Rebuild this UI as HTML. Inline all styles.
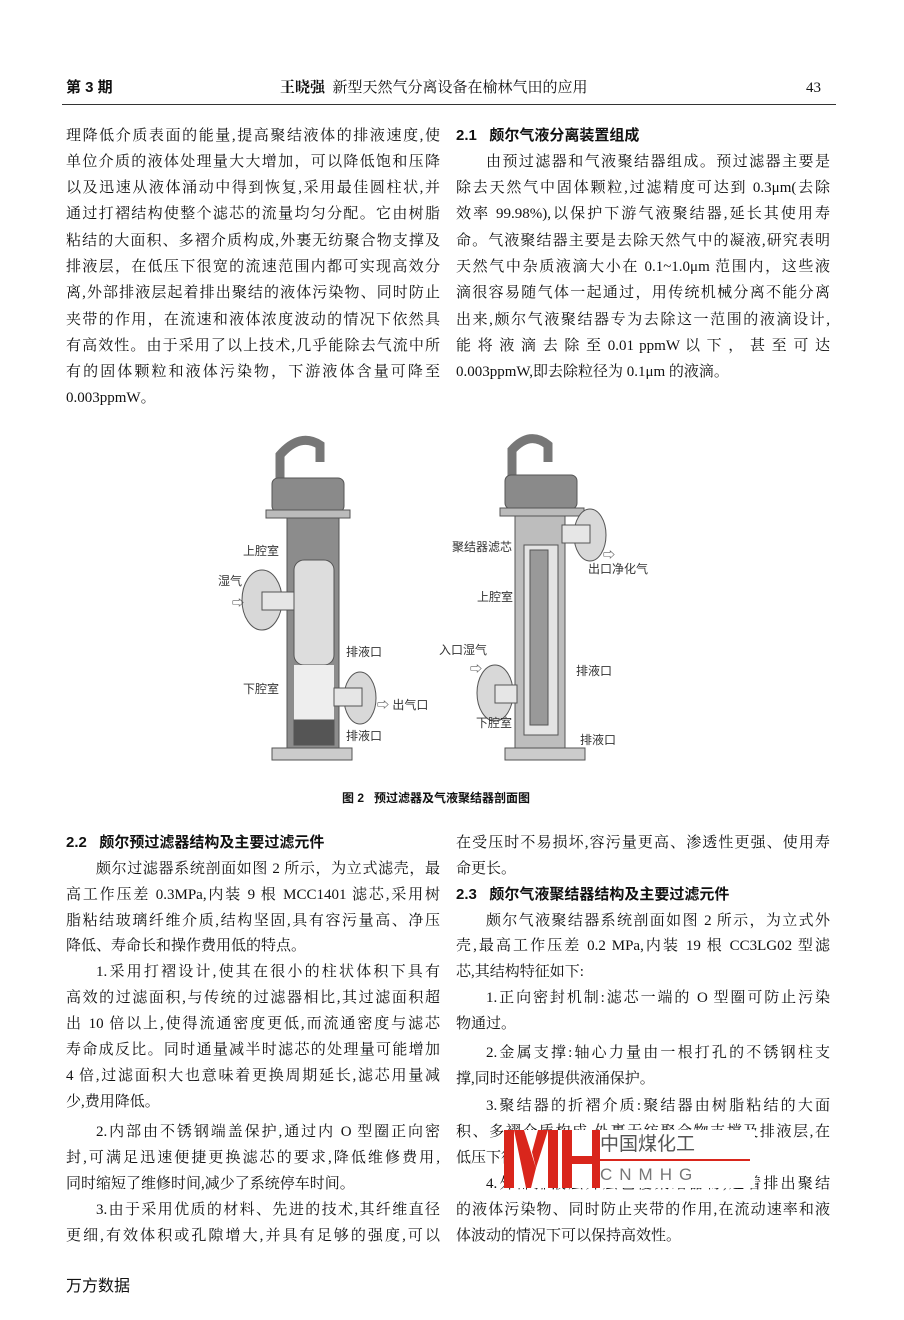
<!DOCTYPE html>
<html><head><meta charset="utf-8"><style>
body{margin:0;background:#fff}
#p{position:relative;width:904px;height:1320px;background:#fff;color:#111;font-family:"Liberation Serif","Noto Serif CJK SC","Noto Sans CJK SC",serif;font-size:15px;overflow:hidden}
.l{position:absolute;height:20px;line-height:20px;white-space:nowrap}
.L{left:66px;width:374px}
.R{left:456px;width:374px}
.j{text-align:justify;text-align-last:justify}
.h{font-family:"Liberation Sans","Noto Sans CJK SC",sans-serif;font-weight:bold}
.s{font-family:"Liberation Sans","Noto Sans CJK SC",sans-serif;font-size:12px;color:#333;position:absolute;white-space:nowrap}
</style></head><body><div id="p">
<div class="l h" style="left:66px;top:78px">第 3 期</div>
<div class="l" style="left:280px;top:78px"><b>王晓强</b>&nbsp;&nbsp;新型天然气分离设备在榆林气田的应用</div>
<div class="l" style="left:806px;top:78px">43</div>
<div style="position:absolute;left:62px;top:104px;width:774px;height:1px;background:#333"></div>

<div class="l L j" style="top:126px">理降低介质表面的能量,提高聚结液体的排液速度,使</div>
<div class="l L j" style="top:152px">单位介质的液体处理量大大增加，可以降低饱和压降</div>
<div class="l L j" style="top:178px">以及迅速从液体涌动中得到恢复,采用最佳圆柱状,并</div>
<div class="l L j" style="top:204px">通过打褶结构使整个滤芯的流量均匀分配。它由树脂</div>
<div class="l L j" style="top:231px">粘结的大面积、多褶介质构成,外裹无纺聚合物支撑及</div>
<div class="l L j" style="top:257px">排液层，在低压下很宽的流速范围内都可实现高效分</div>
<div class="l L j" style="top:283px">离,外部排液层起着排出聚结的液体污染物、同时防止</div>
<div class="l L j" style="top:310px">夹带的作用，在流速和液体浓度波动的情况下依然具</div>
<div class="l L j" style="top:336px">有高效性。由于采用了以上技术,几乎能除去气流中所</div>
<div class="l L j" style="top:362px">有的固体颗粒和液体污染物，下游液体含量可降至</div>
<div class="l L" style="top:388px">0.003ppmW。</div>

<div class="l R h" style="top:126px">2.1&nbsp;&nbsp;&nbsp;颇尔气液分离装置组成</div>
<div class="l R j" style="top:152px;left:486px;width:344px">由预过滤器和气液聚结器组成。预过滤器主要是</div>
<div class="l R j" style="top:178px">除去天然气中固体颗粒,过滤精度可达到 0.3μm(去除</div>
<div class="l R j" style="top:204px">效率 99.98%),以保护下游气液聚结器,延长其使用寿</div>
<div class="l R j" style="top:231px">命。气液聚结器主要是去除天然气中的凝液,研究表明</div>
<div class="l R j" style="top:257px">天然气中杂质液滴大小在 0.1~1.0μm 范围内，这些液</div>
<div class="l R j" style="top:283px">滴很容易随气体一起通过，用传统机械分离不能分离</div>
<div class="l R j" style="top:310px">出来,颇尔气液聚结器专为去除这一范围的液滴设计,</div>
<div class="l R j" style="top:336px">能 将 液 滴 去 除 至 0.01 ppmW 以 下 ， 甚 至 可 达</div>
<div class="l R" style="top:362px">0.003ppmW,即去除粒径为 0.1μm 的液滴。</div>

<svg style="position:absolute;left:0;top:0" width="904" height="820">
<g fill="#9a9a9a" stroke="#555" stroke-width="1">
<!-- left apparatus -->
<path d="M280 480 L280 455 Q300 432 320 445 L320 462" fill="none" stroke="#777" stroke-width="9"/>
<rect x="272" y="478" width="72" height="34" rx="6" fill="#8a8a8a"/>
<rect x="266" y="510" width="84" height="8" fill="#bbb"/>
<rect x="287" y="518" width="52" height="232" fill="#8c8c8c"/>
<rect x="294" y="560" width="40" height="105" rx="10" fill="#ddd"/>
<rect x="294" y="665" width="40" height="55" fill="#eee" stroke="none"/>
<rect x="294" y="720" width="40" height="25" fill="#555"/>
<ellipse cx="262" cy="600" rx="20" ry="30" fill="#d8d8d8"/>
<rect x="262" y="592" width="32" height="18" fill="#e6e6e6"/>
<ellipse cx="360" cy="698" rx="16" ry="26" fill="#d8d8d8"/>
<rect x="334" y="688" width="28" height="18" fill="#e6e6e6"/>
<rect x="272" y="748" width="80" height="12" fill="#ccc"/>
<!-- right apparatus -->
<path d="M512 478 L512 450 Q530 430 548 445 L548 462" fill="none" stroke="#777" stroke-width="9"/>
<rect x="505" y="475" width="72" height="34" rx="6" fill="#8a8a8a"/>
<rect x="500" y="508" width="84" height="8" fill="#bbb"/>
<rect x="515" y="516" width="50" height="234" fill="#bdbdbd"/>
<rect x="524" y="545" width="34" height="190" fill="#e4e4e4"/>
<rect x="530" y="550" width="18" height="175" fill="#999"/>
<ellipse cx="590" cy="535" rx="16" ry="26" fill="#d8d8d8"/>
<rect x="562" y="525" width="28" height="18" fill="#e6e6e6"/>
<ellipse cx="495" cy="693" rx="18" ry="28" fill="#d8d8d8"/>
<rect x="495" y="685" width="22" height="18" fill="#e6e6e6"/>
<rect x="505" y="748" width="80" height="12" fill="#ccc"/>
</g>
</svg>
<div class="s" style="left:243px;top:542px">上腔室</div>
<div class="s" style="left:218px;top:572px">湿气</div>
<div class="s" style="left:232px;top:594px">⇨</div>
<div class="s" style="left:346px;top:643px">排液口</div>
<div class="s" style="left:243px;top:680px">下腔室</div>
<div class="s" style="left:377px;top:696px">⇨ 出气口</div>
<div class="s" style="left:346px;top:727px">排液口</div>
<div class="s" style="left:452px;top:538px">聚结器滤芯</div>
<div class="s" style="left:603px;top:546px">⇨</div>
<div class="s" style="left:588px;top:560px">出口净化气</div>
<div class="s" style="left:477px;top:588px">上腔室</div>
<div class="s" style="left:439px;top:641px">入口湿气</div>
<div class="s" style="left:470px;top:660px">⇨</div>
<div class="s" style="left:576px;top:662px">排液口</div>
<div class="s" style="left:476px;top:714px">下腔室</div>
<div class="s" style="left:580px;top:731px">排液口</div>
<div class="l h" style="left:342px;top:788px;font-size:12px">图 2&nbsp;&nbsp;&nbsp;预过滤器及气液聚结器剖面图</div>

<div class="l L h" style="top:833px">2.2&nbsp;&nbsp;&nbsp;颇尔预过滤器结构及主要过滤元件</div>
<div class="l L j" style="top:859px;left:96px;width:344px">颇尔过滤器系统剖面如图 2 所示，为立式滤壳，最</div>
<div class="l L j" style="top:885px">高工作压差 0.3MPa,内装 9 根 MCC1401 滤芯,采用树</div>
<div class="l L j" style="top:911px">脂粘结玻璃纤维介质,结构坚固,具有容污量高、净压</div>
<div class="l L" style="top:936px">降低、寿命长和操作费用低的特点。</div>
<div class="l L j" style="top:962px;left:96px;width:344px">1.采用打褶设计,使其在很小的柱状体积下具有</div>
<div class="l L j" style="top:988px">高效的过滤面积,与传统的过滤器相比,其过滤面积超</div>
<div class="l L j" style="top:1014px">出 10 倍以上,使得流通密度更低,而流通密度与滤芯</div>
<div class="l L j" style="top:1040px">寿命成反比。同时通量减半时滤芯的处理量可能增加</div>
<div class="l L j" style="top:1066px">4 倍,过滤面积大也意味着更换周期延长,滤芯用量减</div>
<div class="l L" style="top:1092px">少,费用降低。</div>
<div class="l L j" style="top:1122px;left:96px;width:344px">2.内部由不锈钢端盖保护,通过内 O 型圈正向密</div>
<div class="l L j" style="top:1148px">封,可满足迅速便捷更换滤芯的要求,降低维修费用,</div>
<div class="l L" style="top:1174px">同时缩短了维修时间,减少了系统停车时间。</div>
<div class="l L j" style="top:1200px;left:96px;width:344px">3.由于采用优质的材料、先进的技术,其纤维直径</div>
<div class="l L j" style="top:1226px">更细,有效体积或孔隙增大,并具有足够的强度,可以</div>

<div class="l R j" style="top:833px">在受压时不易损坏,容污量更高、渗透性更强、使用寿</div>
<div class="l R" style="top:859px">命更长。</div>
<div class="l R h" style="top:885px">2.3&nbsp;&nbsp;&nbsp;颇尔气液聚结器结构及主要过滤元件</div>
<div class="l R j" style="top:911px;left:486px;width:344px">颇尔气液聚结器系统剖面如图 2 所示，为立式外</div>
<div class="l R j" style="top:936px">壳,最高工作压差 0.2 MPa,内装 19 根 CC3LG02 型滤</div>
<div class="l R" style="top:962px">芯,其结构特征如下:</div>
<div class="l R j" style="top:988px;left:486px;width:344px">1.正向密封机制:滤芯一端的 O 型圈可防止污染</div>
<div class="l R" style="top:1014px">物通过。</div>
<div class="l R j" style="top:1043px;left:486px;width:344px">2.金属支撑:轴心力量由一根打孔的不锈钢柱支</div>
<div class="l R" style="top:1069px">撑,同时还能够提供液涌保护。</div>
<div class="l R j" style="top:1096px;left:486px;width:344px">3.聚结器的折褶介质:聚结器由树脂粘结的大面</div>
<div class="l R j" style="top:1122px">积、多褶介质构成,外裹无纺聚合物支撑及排液层,在</div>
<div class="l R" style="top:1148px">低压下很宽的流速范围内都可实现高效分离。</div>
<div class="l R j" style="top:1174px;left:486px;width:344px">4.外部排液层外层包覆聚结器物,起着排出聚结</div>
<div class="l R j" style="top:1200px">的液体污染物、同时防止夹带的作用,在流动速率和液</div>
<div class="l R" style="top:1226px">体波动的情况下可以保持高效性。</div>

<!-- watermark -->
<div style="position:absolute;left:504px;top:1130px;width:96px;height:58px;background:#fff"></div>
<svg style="position:absolute;left:504px;top:1130px" width="100" height="60">
<g fill="#d9261c"><rect x="0" y="0" width="10" height="58"/><rect x="44" y="0" width="10" height="58"/><polygon points="10,0 20,0 32,38 27,58 22,58"/><polygon points="44,0 34,0 28,22 32,38"/><rect x="58" y="0" width="10" height="58"/><rect x="88" y="0" width="10" height="58"/><rect x="58" y="26" width="40" height="8"/></g>
</svg>
<div style="position:absolute;left:600px;top:1130px;width:155px;height:58px;background:#fff"></div>
<div class="l" style="left:600px;top:1130px;font-family:'Noto Sans CJK SC',sans-serif;font-size:19px;color:#555;line-height:26px;height:26px">中国煤化工</div>
<div style="position:absolute;left:600px;top:1159px;width:150px;height:2px;background:#d9261c"></div>
<div class="l" style="left:600px;top:1163px;font-family:'Liberation Sans',sans-serif;font-size:17px;color:#777;letter-spacing:7px;line-height:24px;height:24px">CNMHG</div>

<div class="l" style="left:66px;top:1274px;font-family:'Noto Sans CJK SC',sans-serif;font-size:16px">万方数据</div>
</div></body></html>
